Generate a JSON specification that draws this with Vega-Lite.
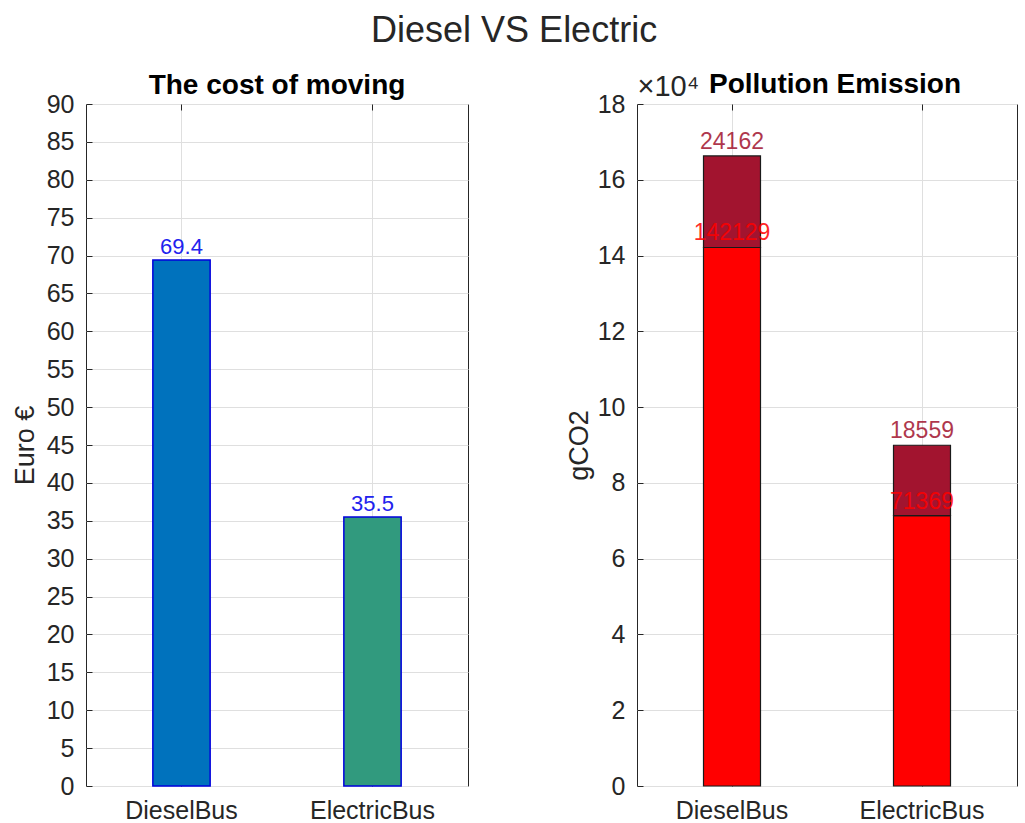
{
  "$schema": "https://vega.github.io/schema/vega-lite/v6.json",
  "background": "white",
  "padding": {"left": 10, "top": 13, "right": 5, "bottom": 2},
  "title": {"text": "Diesel VS Electric", "fontSize": 36, "fontWeight": "normal", "font": "Liberation Sans", "color": "#262626", "anchor": "middle", "offset": 20},
  "config": {
    "font": "Liberation Sans",
    "view": {"stroke": "#262626", "strokeWidth": 1},
    "axis": {
      "labelFont": "Liberation Sans", "labelFontSize": 25, "labelColor": "#262626",
      "titleFont": "Liberation Sans", "titleFontSize": 27, "titleFontWeight": "normal", "titleColor": "#262626",
      "domainColor": "#262626", "tickColor": "#262626", "gridColor": "#DFDFDF", "gridOpacity": 1
    },
    "title": {"font": "Liberation Sans", "fontSize": 28, "fontWeight": "bold", "color": "#000000", "offset": 6}
  },
  "spacing": 95,
  "resolve": {"scale": {"color": "independent"}},
  "hconcat": [
    {
      "width": 382, "height": 682,
      "title": {"text": "The cost of moving", "offset": -8},
      "data": {"values": [
        {"bus": "DieselBus", "cost": 69.4},
        {"bus": "ElectricBus", "cost": 35.5}
      ]},
      "layer": [
        {
          "mark": {"type": "bar", "stroke": "#0000DD", "strokeWidth": 1.5},
          "encoding": {
            "x": {"field": "bus", "type": "nominal", "sort": null,
              "scale": {"paddingInner": 0.7, "paddingOuter": 0.35},
              "axis": {"title": null, "labelAngle": 0, "bandPosition": 0.5, "tickSize": -6, "labelPadding": 18, "grid": true, "domain": false}},
            "y": {"field": "cost", "type": "quantitative",
              "scale": {"domain": [0, 90], "nice": false},
              "axis": {"title": "Euro €", "values": [0,5,10,15,20,25,30,35,40,45,50,55,60,65,70,75,80,85,90], "tickSize": -6, "grid": true, "domain": false, "labelPadding": 18, "titlePadding": 7}},
            "color": {"field": "bus", "type": "nominal", "scale": {"domain": ["DieselBus", "ElectricBus"], "range": ["#0072BD", "#319A7E"]}, "legend": null}
          }
        },
        {
          "mark": {"type": "text", "baseline": "bottom", "dy": -1, "fontSize": 22, "color": "#2222EE"},
          "encoding": {
            "x": {"field": "bus", "type": "nominal", "sort": null, "axis": null},
            "y": {"field": "cost", "type": "quantitative",
              "axis": {"title": "Euro €", "values": [0,5,10,15,20,25,30,35,40,45,50,55,60,65,70,75,80,85,90], "tickSize": -6, "grid": true, "domain": false, "labelPadding": 18, "titlePadding": 7}},
            "text": {"field": "cost", "type": "quantitative", "format": ".1f"}
          }
        },
        {
          "mark": {"type": "rule", "opacity": 0},
          "encoding": {
            "x": {"field": "bus", "type": "nominal", "sort": null,
              "axis": {"orient": "top", "labels": false, "title": null, "domain": false, "grid": false, "tickSize": -6, "bandPosition": 0.5}}
          }
        }
      ],
      "resolve": {"axis": {"x": "independent"}}
    },
    {
      "width": 380, "height": 682,
      "title": {"text": "Pollution Emission", "offset": -26, "dx": 8},
      "data": {"values": [
        {"bus": "DieselBus", "part": "base", "order": 1, "value": 142129},
        {"bus": "DieselBus", "part": "extra", "order": 2, "value": 24162},
        {"bus": "ElectricBus", "part": "base", "order": 1, "value": 71369},
        {"bus": "ElectricBus", "part": "extra", "order": 2, "value": 18559}
      ]},
      "layer": [
        {
          "mark": {"type": "bar", "stroke": "#1a1a1a", "strokeWidth": 1.2},
          "encoding": {
            "x": {"field": "bus", "type": "nominal", "sort": null,
              "scale": {"paddingInner": 0.7, "paddingOuter": 0.35},
              "axis": {"title": null, "labelAngle": 0, "bandPosition": 0.5, "tickSize": -6, "labelPadding": 18, "grid": true, "domain": false}},
            "y": {"field": "value", "type": "quantitative", "stack": "zero",
              "scale": {"domain": [0, 180000], "nice": false},
              "axis": {"title": "gCO2", "values": [0,20000,40000,60000,80000,100000,120000,140000,160000,180000], "labelExpr": "format(datum.value/10000, 'd')", "tickSize": -6, "grid": true, "domain": false, "labelPadding": 18, "titlePadding": 4}},
            "color": {"field": "part", "type": "nominal", "scale": {"domain": ["base", "extra"], "range": ["#FF0000", "#A2142F"]}, "legend": null},
            "order": {"field": "order", "type": "quantitative"}
          }
        },
        {
          "mark": {"type": "text", "baseline": "bottom", "dy": -2, "fontSize": 23, "opacity": 0.85},
          "encoding": {
            "x": {"field": "bus", "type": "nominal", "sort": null, "axis": null},
            "y": {"field": "value", "type": "quantitative", "stack": "zero",
              "axis": {"title": "gCO2", "values": [0,20000,40000,60000,80000,100000,120000,140000,160000,180000], "labelExpr": "format(datum.value/10000, 'd')", "tickSize": -6, "grid": true, "domain": false, "labelPadding": 18, "titlePadding": 4}},
            "color": {"field": "part", "type": "nominal", "legend": null},
            "order": {"field": "order", "type": "quantitative"},
            "text": {"field": "value", "type": "quantitative", "format": "d"}
          }
        },
        {
          "mark": {"type": "rule", "opacity": 0},
          "encoding": {
            "x": {"field": "bus", "type": "nominal", "sort": null,
              "axis": {"orient": "top", "labels": false, "domain": false, "grid": false, "tickSize": -6, "bandPosition": 0.5,
                "title": "×10⁴", "titleFontSize": 29, "titleAngle": 0, "titleAnchor": "start", "titleAlign": "left", "titlePadding": 2}}
          }
        }
      ],
      "resolve": {"axis": {"x": "independent"}}
    }
  ]
}
